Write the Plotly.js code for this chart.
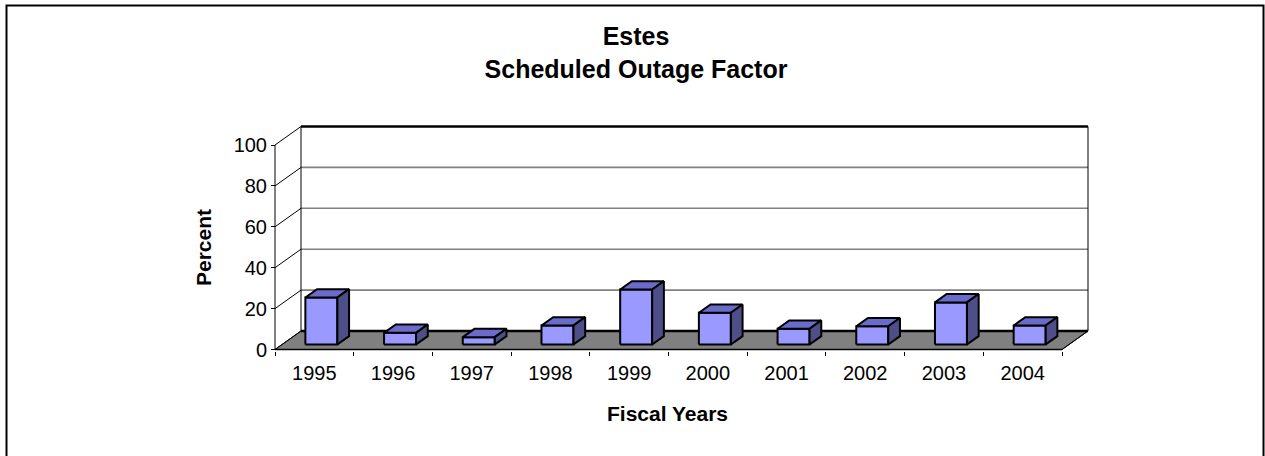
<!DOCTYPE html>
<html>
<head>
<meta charset="utf-8">
<script src="https://cdn.plot.ly/plotly-3.0.1.min.js"></script>
<style>html,body{margin:0;padding:0;background:#fff;}#chart{width:1265px;height:456px;}</style>
</head>
<body>
<div id="chart"></div>
<script>
// ---- data ----
const years = ['1995','1996','1997','1998','1999','2000','2001','2002','2003','2004'];
const scheduledOutage = [23, 5.7, 3.6, 9.3, 26.9, 15.5, 7.7, 8.9, 20.6, 9.3];
const yTickValues = [0, 20, 40, 60, 80, 100];
const titleText = 'Estes<br>Scheduled Outage Factor';
const xTitleText = 'Fiscal Years';
const yTitleText = 'Percent';

// ---- geometry (pixel frame of the plot area) ----
const W = 1265, H = 456;
const L = 265, R = 1095, T = 120, B = 351;
const x0px = 275, catPx = 78.7;       // front floor left edge, px per category
const y0px = 349.5, unitPx = 2.045;   // front floor line, px per percent
const depthPx = [26, 18.5];           // oblique depth offset (right, up)
const nCat = years.length;
const xRange = [(L - x0px) / catPx, (R - x0px) / catPx];
const yRange = [(y0px - B) / unitPx, (y0px - T) / unitPx];
const dX = depthPx[0] / catPx, dY = depthPx[1] / unitPx;
const yMax = 100;
const barHalf = 16 / catPx, f1 = 0.27, f2 = 0.72;

const P = (x, y, f) => [x + f * dX, y + f * dY];
const px2paperX = px => (px - L) / (R - L);
const px2paperY = py => (B - py) / (B - T);

function segTrace(segs, color, width) {
  const xs = [], ys = [];
  segs.forEach(s => { s.forEach(p => { xs.push(p[0]); ys.push(p[1]); }); xs.push(null); ys.push(null); });
  return {type: 'scatter', mode: 'lines', x: xs, y: ys, line: {color: color, width: width},
          hoverinfo: 'skip', showlegend: false, connectgaps: false};
}
function polyTrace(polys, fill, lineColor, lineWidth) {
  const xs = [], ys = [];
  polys.forEach(poly => { poly.concat([poly[0]]).forEach(p => { xs.push(p[0]); ys.push(p[1]); }); xs.push(null); ys.push(null); });
  return {type: 'scatter', mode: 'lines', x: xs, y: ys, fill: 'toself', fillcolor: fill,
          line: {color: lineColor, width: lineWidth}, hoverinfo: 'skip', showlegend: false, connectgaps: false};
}

const traces = [];
// floor
traces.push(polyTrace([[P(0,0,0), P(nCat,0,0), P(nCat,0,1), P(0,0,1)]], '#808080', '#000', 1));
// back wall gridlines
traces.push(segTrace(yTickValues.filter(v => v > 0 && v < yMax).map(v => [P(0,v,1), P(nCat,v,1)]), '#808080', 1.6));
// thin black edges
const thin = [];
yTickValues.forEach(v => thin.push([P(0,v,0), P(0,v,1)]));
thin.push([P(0,0,1), P(0,yMax,1)]);
thin.push([P(nCat,0,1), P(nCat,yMax,1)]);
thin.push([P(0,0,0), P(0,yMax,0)]);
thin.push([P(nCat,0,0), P(nCat,0,1)]);
traces.push(segTrace(thin, '#000', 1));
traces.push(segTrace([[P(0,0,0), P(nCat,0,0)]], '#000', 1.5));
// thick black edges
traces.push(segTrace([[P(0,yMax,1), P(nCat,yMax,1)], [P(0,0,1), P(nCat,0,1)]], '#000', 2.6));

// bars
const fronts = [], tops = [], sides = [];
scheduledOutage.forEach((v, i) => {
  const c = i + 0.5, a = c - barHalf, b = c + barHalf;
  fronts.push([P(a,0,f1), P(b,0,f1), P(b,v,f1), P(a,v,f1)]);
  tops.push([P(a,v,f1), P(b,v,f1), P(b,v,f2), P(a,v,f2)]);
  sides.push([P(b,0,f1), P(b,0,f2), P(b,v,f2), P(b,v,f1)]);
});
traces.push(polyTrace(fronts, '#9999FF', '#000', 2));
traces.push(polyTrace(tops, '#6B6BCC', '#000', 2));
traces.push(polyTrace(sides, '#4E4E88', '#000', 2));

const FONT = 'Arial, "Liberation Sans", sans-serif';
const layout = {
  width: W, height: H,
  margin: {l: L, r: W - R, t: T, b: H - B, pad: 0},
  paper_bgcolor: '#fff', plot_bgcolor: 'rgba(0,0,0,0)',
  font: {family: FONT, color: '#000', size: 20},
  showlegend: false, hovermode: false,
  title: {text: titleText, font: {family: FONT, size: 25, weight: 'bold', color: '#000'},
          xref: 'container', x: 636 / W, yref: 'container', y: 1 - 45 / H, yanchor: 'top', xanchor: 'center'},
  xaxis: {range: xRange, domain: [0, 1], showgrid: false, zeroline: false, showline: false,
          tickmode: 'array', tickvals: years.map((_, i) => i + 0.5), ticktext: years, ticks: '',
          ticklabelstandoff: 8,
          tickfont: {size: 20, family: FONT},
          minor: {tickmode: 'array', tickvals: Array.from({length: nCat + 1}, (_, i) => i), ticks: 'outside', ticklen: 4, tickcolor: '#000', tickwidth: 1}},
  yaxis: {range: yRange, anchor: 'free', position: px2paperX(x0px), showgrid: false, zeroline: false, showline: false,
          tickmode: 'array', tickvals: yTickValues, ticks: 'outside', ticklen: 4, tickcolor: '#000',
          tickfont: {size: 20, family: FONT}},
  annotations: [
    {text: xTitleText, xref: 'paper', yref: 'paper', x: px2paperX(667.5), y: px2paperY(413), showarrow: false,
     xanchor: 'center', yanchor: 'middle', font: {family: FONT, size: 21, weight: 'bold'}},
    {text: yTitleText, xref: 'paper', yref: 'paper', x: px2paperX(203), y: px2paperY(248), showarrow: false, textangle: -90,
     xanchor: 'center', yanchor: 'middle', font: {family: FONT, size: 21, weight: 'bold'}}
  ],
  shapes: [
    {type: 'path', xref: 'paper', yref: 'paper',
     path: 'M ' + px2paperX(6.5) + ' ' + px2paperY(470) + ' L ' + px2paperX(6.5) + ' ' + px2paperY(5.5) +
           ' L ' + px2paperX(1263.5) + ' ' + px2paperY(5.5) + ' L ' + px2paperX(1263.5) + ' ' + px2paperY(470),
     line: {color: '#000', width: 2}}
  ]
};
Plotly.newPlot('chart', traces, layout, {displayModeBar: false, staticPlot: true});
</script>
</body>
</html>
